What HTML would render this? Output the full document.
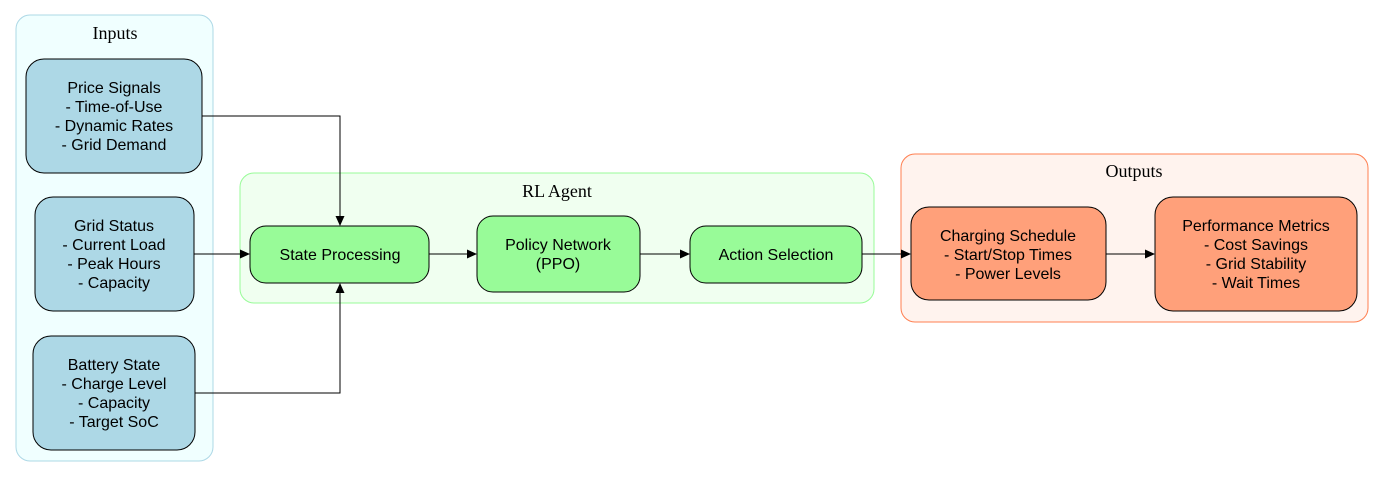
<!DOCTYPE html>
<html><head><style>body{margin:0;background:#fff}svg{display:block}</style></head><body>
<svg width="1385" height="477" viewBox="0 0 1385 477" xmlns="http://www.w3.org/2000/svg">
<defs><marker id="a" markerWidth="10" markerHeight="10" refX="9" refY="5" orient="auto" markerUnits="userSpaceOnUse"><path d="M0,0.5 L10,5 L0,9.5 z" fill="#000"/></marker></defs>
<g font-family="Liberation Serif, serif" font-size="18" text-anchor="middle">
<rect x="16" y="15" width="197" height="446" rx="14" fill="#f0ffff" stroke="#add8e6"/>
<text x="115" y="39">Inputs</text>
<rect x="240" y="173" width="634" height="130" rx="14" fill="#f0fff0" stroke="#98fb98"/>
<text x="557" y="197">RL Agent</text>
<rect x="901" y="154" width="467" height="168" rx="14" fill="#fff3ee" stroke="#ff7f50"/>
<text x="1134" y="177">Outputs</text>
</g>
<g stroke="#000" stroke-width="1">
<rect x="26" y="59" width="176" height="114" rx="18" fill="#add8e6"/>
<rect x="35" y="197" width="159" height="114" rx="18" fill="#add8e6"/>
<rect x="33" y="336" width="162" height="114" rx="18" fill="#add8e6"/>
<rect x="250" y="226" width="179" height="57" rx="16" fill="#98fb98"/>
<rect x="477" y="216" width="163" height="76" rx="16" fill="#98fb98"/>
<rect x="690" y="226" width="172" height="57" rx="16" fill="#98fb98"/>
<rect x="911" y="207" width="195" height="93" rx="18" fill="#ffa07a"/>
<rect x="1155" y="197" width="202" height="114" rx="18" fill="#ffa07a"/>
</g>
<g stroke="#000" fill="none" marker-end="url(#a)">
<path d="M202,116 H340 V225"/>
<path d="M194,254 H249"/>
<path d="M195,393 H340 V284"/>
<path d="M429,254 H476"/>
<path d="M640,254 H689"/>
<path d="M862,254 H910"/>
<path d="M1106,254 H1154"/>
</g>
<g font-family="Liberation Sans, sans-serif" font-size="16" text-anchor="middle" fill="#000">
<text x="114" y="93">Price Signals</text><text x="114" y="112">- Time-of-Use</text><text x="114" y="131">- Dynamic Rates</text><text x="114" y="150">- Grid Demand</text>
<text x="114" y="231">Grid Status</text><text x="114" y="250">- Current Load</text><text x="114" y="269">- Peak Hours</text><text x="114" y="288">- Capacity</text>
<text x="114" y="370">Battery State</text><text x="114" y="389">- Charge Level</text><text x="114" y="408">- Capacity</text><text x="114" y="427">- Target SoC</text>
<text x="340" y="260">State Processing</text>
<text x="558" y="250">Policy Network</text><text x="558" y="269">(PPO)</text>
<text x="776" y="260">Action Selection</text>
<text x="1008" y="241">Charging Schedule</text><text x="1008" y="260">- Start/Stop Times</text><text x="1008" y="279">- Power Levels</text>
<text x="1256" y="231">Performance Metrics</text><text x="1256" y="250">- Cost Savings</text><text x="1256" y="269">- Grid Stability</text><text x="1256" y="288">- Wait Times</text>
</g>
</svg>
</body></html>
